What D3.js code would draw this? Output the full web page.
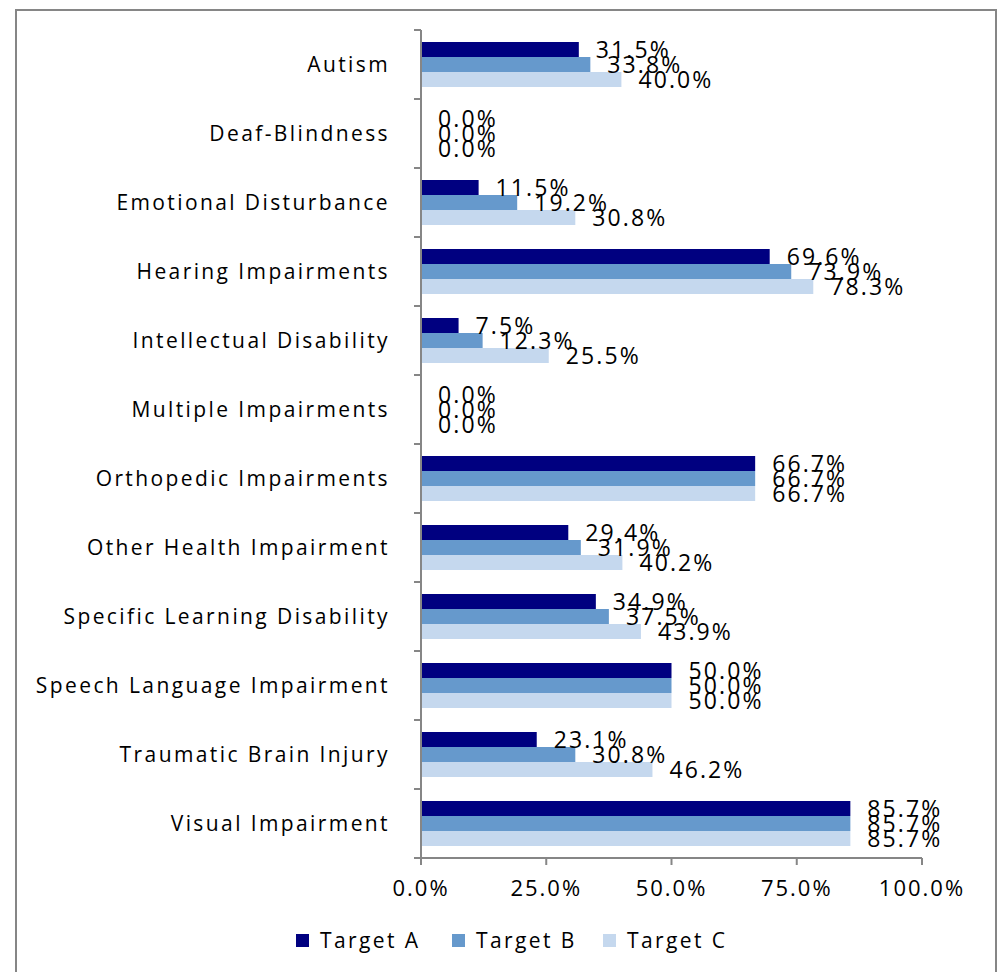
<!DOCTYPE html>
<html>
<head>
<meta charset="utf-8">
<script src="https://cdn.jsdelivr.net/npm/d3@7"></script>
<style>
  body { margin: 0; background: #fff; }
  text { font-family: "Open Sans", "Noto Sans", sans-serif; fill: #000; }
</style>
</head>
<body>
<svg id="chart" width="999" height="972"></svg>
<script>
// chart data
const categories = [
  "Autism", "Deaf-Blindness", "Emotional Disturbance", "Hearing Impairments",
  "Intellectual Disability", "Multiple Impairments", "Orthopedic Impairments",
  "Other Health Impairment", "Specific Learning Disability",
  "Speech Language Impairment", "Traumatic Brain Injury", "Visual Impairment"
];
const seriesNames = ["Target A", "Target B", "Target C"];
const targetA = [31.5, 0.0, 11.5, 69.6, 7.5, 0.0, 66.7, 29.4, 34.9, 50.0, 23.1, 85.7];
const targetB = [33.8, 0.0, 19.2, 73.9, 12.3, 0.0, 66.7, 31.9, 37.5, 50.0, 30.8, 85.7];
const targetC = [40.0, 0.0, 30.8, 78.3, 25.5, 0.0, 66.7, 40.2, 43.9, 50.0, 46.2, 85.7];
const xTicks = [0, 25, 50, 75, 100];
const colors = ["#000080", "#6699cc", "#c5d8ee"];

const svg = d3.select("#chart");
const W = 999, H = 972;
const margin = { left: 421, right: 77, top: 30, bottom: 114 };
const axisColor = "#868686";
const fontSize = 21, spacing = 2.4;

// outer frame
svg.append("rect")
  .attr("x", 16).attr("y", 10)
  .attr("width", 980).attr("height", 980)
  .attr("fill", "none")
  .attr("stroke", axisColor)
  .attr("stroke-width", 2);

const x = d3.scaleLinear().domain([0, 100]).range([margin.left, W - margin.right]);
const y = d3.scaleBand().domain(categories).range([margin.top, H - margin.bottom]);
const inner = d3.scaleBand().domain(seriesNames)
  .range([0, y.bandwidth()]).paddingInner(0).paddingOuter(0.8);

const rows = categories.map((c, i) => ({
  cat: c,
  vals: [targetA[i], targetB[i], targetC[i]]
}));

// bars
const groups = svg.selectAll(".row")
  .data(rows)
  .enter()
  .append("g")
  .attr("class", "row")
  .attr("transform", d => `translate(0,${y(d.cat)})`);

groups.selectAll("rect")
  .data(d => d.vals.map((v, j) => ({ v, s: seriesNames[j], j })))
  .enter()
  .append("rect")
  .attr("x", x(0))
  .attr("y", d => inner(d.s))
  .attr("width", d => x(d.v) - x(0))
  .attr("height", inner.bandwidth())
  .attr("fill", d => colors[d.j]);

// value labels (they overlap in the original too)
groups.selectAll("text.val")
  .data(d => d.vals.map((v, j) => ({ v, s: seriesNames[j], j })))
  .enter()
  .append("text")
  .attr("class", "val")
  .attr("x", d => x(d.v) + 17)
  .attr("y", d => inner(d.s) + inner.bandwidth() / 2)
  .attr("dy", "0.36em")
  .attr("font-size", 23)
  .attr("letter-spacing", 2.1)
  .text(d => d.v.toFixed(1) + "%");

// y axis
const yAxis = svg.append("g");
yAxis.append("line")
  .attr("x1", x(0)).attr("x2", x(0))
  .attr("y1", margin.top).attr("y2", H - margin.bottom)
  .attr("stroke", axisColor).attr("stroke-width", 2);
yAxis.selectAll(".ytick")
  .data(categories.map(c => y(c)).concat([H - margin.bottom]))
  .enter()
  .append("line")
  .attr("x1", x(0) - 7).attr("x2", x(0))
  .attr("y1", d => d).attr("y2", d => d)
  .attr("stroke", axisColor).attr("stroke-width", 2);
yAxis.selectAll(".ylab")
  .data(categories)
  .enter()
  .append("text")
  .attr("x", x(0) - 31)
  .attr("y", d => y(d) + y.bandwidth() / 2)
  .attr("dy", "0.36em")
  .attr("text-anchor", "end")
  .attr("font-size", fontSize)
  .attr("letter-spacing", spacing)
  .text(d => d);

// x axis
const xAxis = svg.append("g");
const axisY = H - margin.bottom;
xAxis.append("line")
  .attr("x1", x(0) - 7).attr("x2", x(100))
  .attr("y1", axisY).attr("y2", axisY)
  .attr("stroke", axisColor).attr("stroke-width", 2);
xAxis.selectAll(".xtick")
  .data(xTicks)
  .enter()
  .append("line")
  .attr("x1", d => x(d)).attr("x2", d => x(d))
  .attr("y1", axisY).attr("y2", axisY + 7)
  .attr("stroke", axisColor).attr("stroke-width", 2);
xAxis.selectAll(".xlab")
  .data(xTicks)
  .enter()
  .append("text")
  .attr("x", d => x(d))
  .attr("y", axisY + 30)
  .attr("dy", "0.36em")
  .attr("text-anchor", "middle")
  .attr("font-size", 22)
  .attr("letter-spacing", 2)
  .text(d => d.toFixed(1) + "%");

// legend
const legendX = [296, 452, 603];
const legend = svg.selectAll(".leg")
  .data(seriesNames)
  .enter()
  .append("g")
  .attr("transform", (d, i) => `translate(${legendX[i]},940)`);
legend.append("rect")
  .attr("x", 0).attr("y", -6)
  .attr("width", 13).attr("height", 13)
  .attr("fill", (d, i) => colors[i]);
legend.append("text")
  .attr("x", 24).attr("y", 0)
  .attr("dy", "0.36em")
  .attr("font-size", fontSize)
  .attr("letter-spacing", spacing)
  .text(d => d);
</script>
</body>
</html>
